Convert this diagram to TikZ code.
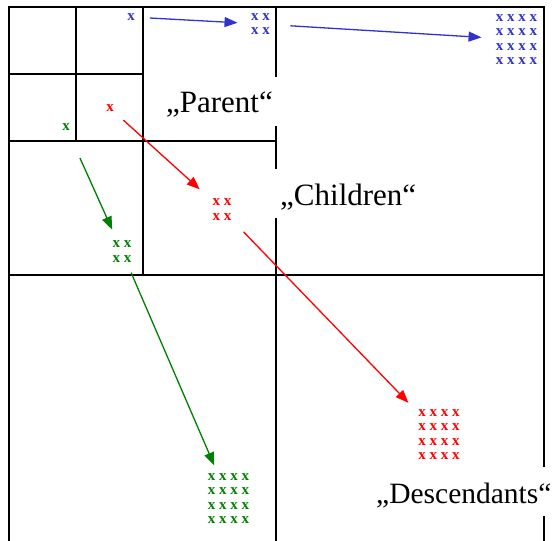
\documentclass[tikz,border=0pt]{standalone}
\usepackage{fontspec}
\setmainfont{Liberation Serif}
\usetikzlibrary{arrows.meta}
\definecolor{blueC}{RGB}{51,51,204}
\definecolor{redC}{RGB}{255,0,0}
\definecolor{greenC}{RGB}{0,128,0}
\begin{document}
\begin{tikzpicture}[x=1pt,y=-1pt,
  grid/.style={line width=1.7pt},
  mk/.style={font=\bfseries\fontsize{15}{14.5}\selectfont, inner sep=0pt, align=center},
  lbl/.style={font=\fontsize{31}{31}\selectfont, fill=white, inner ysep=0pt, inner xsep=6pt, text height=36pt, text depth=13pt},
  arr/.style={line width=1.3pt, -{Triangle[length=13pt,width=10pt]}}]
\useasboundingbox (0,0) rectangle (556,540);
\clip (0,0) rectangle (556,540);
% grid
\draw[grid] (9,548) -- (9,7) -- (544,7) -- (544,548);
\draw[grid] (9,275) -- (544,275);
\draw[grid] (276,7) -- (276,548);
\draw[grid] (143,7) -- (143,275);
\draw[grid] (9,141) -- (276,141);
\draw[grid] (76,7) -- (76,141);
\draw[grid] (9,74) -- (143,74);
% labels
\node[lbl, anchor=base east] (parent) at (279,113) {„Parent“};
\node[lbl, anchor=base west] (children) at (274,205) {„Children“};
\node[lbl, anchor=base west, inner xsep=5pt, font=\fontsize{29.5}{31}\selectfont] (desc) at (371,503) {„Descendants“};
% marks
\node[mk,text=blueC] (b1) at (131,17) {x};
\node[mk,text=blueC] (b2) at (260.5,24) {x x\\x x};
\node[mk,text=blueC] (b3) at (516.5,39.5) {x x x x\\x x x x\\x x x x\\x x x x};
\node[mk,text=redC] (r1) at (110,108) {x};
\node[mk,text=redC] (r2) at (222,209.5) {x x\\x x};
\node[mk,text=redC] (r3) at (439,434.5) {x x x x\\x x x x\\x x x x\\x x x x};
\node[mk,text=greenC] (g1) at (66,127) {x};
\node[mk,text=greenC] (g2) at (122,251.5) {x x\\x x};
\node[mk,text=greenC] (g3) at (228.5,498.5) {x x x x\\x x x x\\x x x x\\x x x x};
% arrows
\draw[arr,blueC,shorten <=19pt,shorten >=23pt] (b1.center) -- (b2.center);
\draw[arr,blueC,shorten <=30pt,shorten >=35pt] (b2.center) -- (b3.center);
\draw[arr,redC,shorten <=18pt,shorten >=30pt] (r1.center) -- (r2.center);
\draw[arr,redC,shorten <=31pt,shorten >=44pt] (r2.center) -- (r3.center);
\draw[arr,greenC,shorten <=34pt,shorten >=24pt] (g1.center) -- (g2.center);
\draw[arr,greenC,shorten <=23pt,shorten >=36pt] (g2.center) -- (g3.center);
\end{tikzpicture}
\end{document}
